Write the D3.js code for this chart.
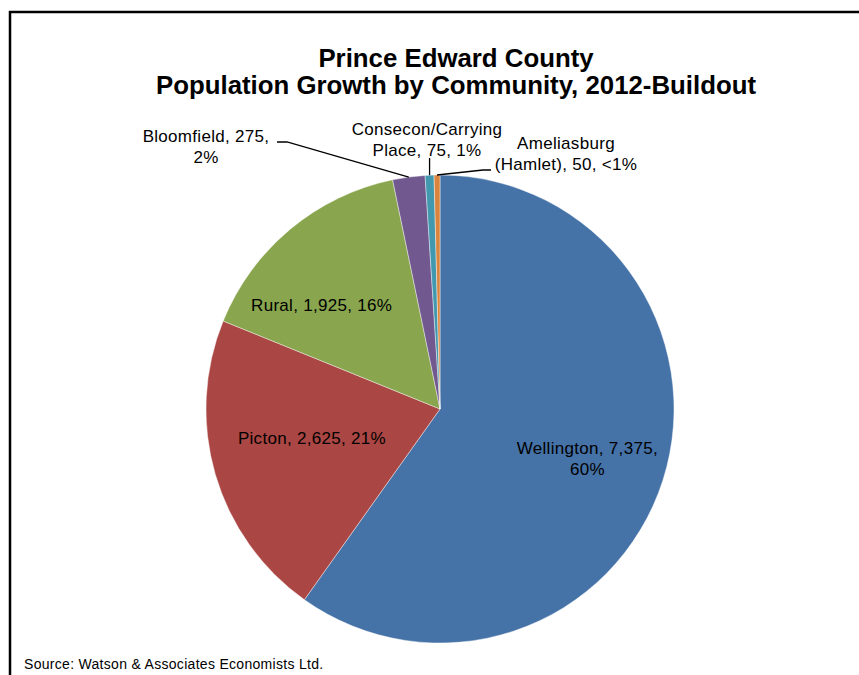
<!DOCTYPE html>
<html>
<head>
<meta charset="utf-8">
<script src="https://cdn.jsdelivr.net/npm/d3@7"></script>
<style>
  body { margin: 0; background: #fff; }
  svg { display: block; }
  text { font-family: "Liberation Sans", Arial, sans-serif; }
</style>
</head>
<body>
<div id="app"></div>
<script>
// data
const communities = ['Wellington', 'Picton', 'Rural', 'Bloomfield', 'Consecon/Carrying Place', 'Ameliasburg (Hamlet)']
const population = [7375, 2625, 1925, 275, 75, 50]
const percentLabels = ['60%', '21%', '16%', '2%', '1%', '<1%']
const sliceColors = ['#4572a7', '#aa4643', '#89a54e', '#71588f', '#4198af', '#db843d']

const titleLines = ['Prince Edward County', 'Population Growth by Community, 2012-Buildout']
const sourceText = 'Source: Watson & Associates Economists Ltd.'

const w = 859
const h = 675
const cx = 440
const cy = 409
const r = 234

const data = communities.map((c, i) => ({
  name: c,
  value: population[i],
  pct: percentLabels[i],
  color: sliceColors[i]
}))

const svg = d3.select('#app')
  .append('svg')
  .attr('width', w)
  .attr('height', h)

// chart frame (runs off the right and bottom edge)
svg.append('rect')
  .attr('x', 10)
  .attr('y', 12)
  .attr('width', 860)
  .attr('height', 700)
  .attr('fill', 'none')
  .attr('stroke', '#000')
  .attr('stroke-width', 2.5)

// title
svg.append('text')
  .attr('text-anchor', 'middle')
  .attr('font-weight', 'bold')
  .attr('font-size', 25.8)
  .selectAll('tspan')
  .data(titleLines)
  .enter()
  .append('tspan')
  .attr('x', 456)
  .attr('y', (d, i) => 67 + i * 27)
  .text(d => d)

const pie = d3.pie()
  .value(d => d.value)
  .sort(null)

const arc = d3.arc()
  .innerRadius(0)
  .outerRadius(r)

const arcs = pie(data)

const g = svg.append('g')
  .attr('transform', `translate(${cx}, ${cy})`)

g.selectAll('path')
  .data(arcs)
  .enter()
  .append('path')
  .attr('d', arc)
  .attr('fill', d => d.data.color)
  .attr('stroke', '#fff')
  .attr('stroke-width', 0.6)
  .attr('stroke-opacity', 0.7)

// label placement: radius factor for the anchor + nudges, fixed spots for the thin slices
const labelLayout = {
  'Wellington': { k: 0.67, dx: -2, dy: 3, lines: d => ['Wellington, 7,375,', d.data.pct] },
  'Picton': { k: 0.57, dx: 0, dy: -7, lines: d => ['Picton, 2,625, ' + d.data.pct] },
  'Rural': { k: 0.75, dx: -6, dy: 32, lines: d => ['Rural, 1,925, ' + d.data.pct] },
  'Bloomfield': { pos: [206, 142], lines: d => ['Bloomfield, 275,', d.data.pct] },
  'Consecon/Carrying Place': { pos: [427, 135], lines: d => ['Consecon/Carrying', 'Place, 75, ' + d.data.pct] },
  'Ameliasburg (Hamlet)': { pos: [566, 149], lines: d => ['Ameliasburg', '(Hamlet), 50, ' + d.data.pct] }
}

const lineH = 21
const labels = svg.append('g')
  .attr('font-size', 17)
  .attr('letter-spacing', 0.3)
  .attr('fill', '#000')

arcs.forEach(d => {
  const L = labelLayout[d.data.name]
  const lines = L.lines(d)
  let x, y
  if (L.pos) {
    x = L.pos[0]
    y = L.pos[1]
  } else {
    const c = d3.arc().innerRadius(0).outerRadius(r * L.k * 2).centroid(d)
    x = cx + c[0] + L.dx
    y = cy + c[1] + L.dy - (lines.length - 1) * lineH / 2 + 5
  }
  labels.append('text')
    .attr('text-anchor', 'middle')
    .selectAll('tspan')
    .data(lines)
    .enter()
    .append('tspan')
    .attr('x', x)
    .attr('y', (t, i) => y + i * lineH)
    .text(t => t)
})

// leader lines for the thin slices, ending on the outer edge of each slice
const edge = d => {
  const a = (d.startAngle + d.endAngle) / 2
  return [cx + Math.sin(a) * r, cy - Math.cos(a) * r]
}
const line = d3.line()
const leaders = [
  { i: 3, pts: p => [[277, 142], [287, 142], p] },
  { i: 4, pts: p => [[p[0], 158], p] },
  { i: 5, pts: p => [[491, 170], [483, 170], p] }
]
leaders.forEach(l => {
  const p = edge(arcs[l.i])
  svg.append('path')
    .attr('d', line(l.pts(p)))
    .attr('fill', 'none')
    .attr('stroke', '#000')
    .attr('stroke-width', 1.3)
})

// source note
svg.append('text')
  .attr('x', 24)
  .attr('y', 669)
  .attr('font-family', '"Open Sans", sans-serif')
  .attr('font-size', 14)
  .attr('letter-spacing', 0.3)
  .text(sourceText)
</script>
</body>
</html>
